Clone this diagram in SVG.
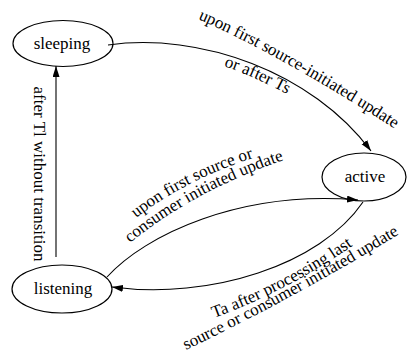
<svg xmlns="http://www.w3.org/2000/svg" width="418" height="358" viewBox="0 0 418 358">
<defs>
<style>
.node ellipse{fill:none;stroke:#000;stroke-width:1.2}
.lbl{font-family:"Liberation Serif","Times New Roman",serif;font-size:17px;fill:#000}
.nl{text-anchor:middle}
.edge{fill:none;stroke:#000;stroke-width:1.1}
</style>
<marker id="ah" markerUnits="userSpaceOnUse" markerWidth="12" markerHeight="8" refX="11" refY="3.5" orient="auto">
<path d="M0,0 L11,3.5 L0,7 z" fill="#000"/>
</marker>
<path id="p1a" d="M198,19 Q280,55 392,127"/>
<path id="p1b" d="M224,66 Q255,77 289,95"/>
<path id="p2a" d="M136,218 Q185,180 253,158"/>
<path id="p2b" d="M130,243 Q195,190 284,160"/>
<path id="p3a" d="M214,318 Q290,290 358,242"/>
<path id="p3b" d="M186,350 Q290,300 396,236"/>
</defs>
<rect width="418" height="358" fill="#fff"/>
<g id="connectors">
<path class="edge" d="M108,45 C200,32 312,72 371,151" marker-end="url(#ah)"/>
<path class="edge" d="M107,277 C145,235 240,190 358,200" marker-end="url(#ah)"/>
<path class="edge" d="M363,202 C320,265 210,300 112,287" marker-end="url(#ah)"/>
<path class="edge" d="M56,257 L56,66" marker-end="url(#ah)"/>
<text class="lbl"><textPath href="#p1a">upon first source-initiated update</textPath></text>
<text class="lbl"><textPath href="#p1b">or after Ts</textPath></text>
<text class="lbl"><textPath href="#p2a">upon first source or</textPath></text>
<text class="lbl"><textPath href="#p2b">consumer initiated update</textPath></text>
<text class="lbl"><textPath href="#p3a">Ta after processing last</textPath></text>
<text class="lbl"><textPath href="#p3b">source or consumer initiated update</textPath></text>
<text class="lbl nl" transform="translate(34,174) rotate(90)">after Tl without transition</text>
</g>
<g id="sleeping" class="node">
<ellipse cx="63" cy="43.5" rx="50" ry="23"/>
<text class="lbl nl" x="62" y="48.5">sleeping</text>
</g>
<g id="active" class="node">
<ellipse cx="364" cy="177" rx="42" ry="24"/>
<text class="lbl nl" x="365" y="182">active</text>
</g>
<g id="listening" class="node">
<ellipse cx="62" cy="289" rx="50" ry="24"/>
<text class="lbl nl" x="63" y="294">listening</text>
</g>
</svg>
